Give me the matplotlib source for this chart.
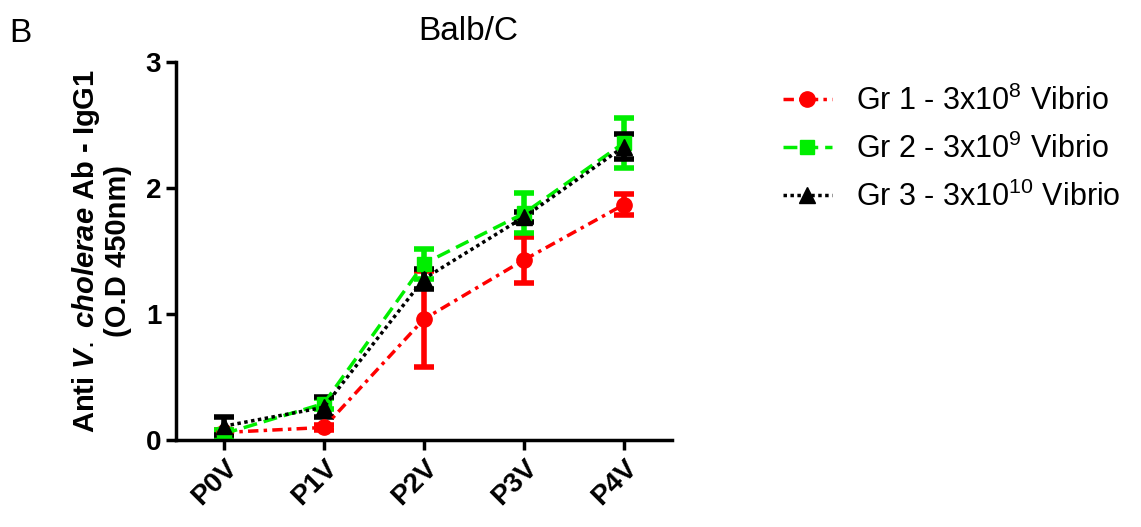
import matplotlib
matplotlib.use("Agg")
import matplotlib.pyplot as plt
from matplotlib.lines import Line2D

plt.rcParams['font.family'] = ['Liberation Sans', 'DejaVu Sans']
plt.rcParams['mathtext.fontset'] = 'custom'
plt.rcParams['mathtext.rm'] = 'Liberation Sans'
plt.rcParams['mathtext.it'] = 'Liberation Sans:italic:bold'
plt.rcParams['mathtext.bf'] = 'Liberation Sans:bold'

# data
days = ["P0V", "P1V", "P2V", "P3V", "P4V"]
gr1_mean = [0.06, 0.10, 0.96, 1.43, 1.87]
gr1_err = [0.02, 0.02, 0.38, 0.18, 0.08]
gr2_mean = [0.05, 0.29, 1.40, 1.80, 2.36]
gr2_err = [0.03, 0.04, 0.12, 0.16, 0.20]
gr3_mean = [0.11, 0.26, 1.28, 1.77, 2.33]
gr3_err = [0.07, 0.08, 0.08, 0.04, 0.10]
labels = ["Gr 1 - 3x10$^{8}$ Vibrio", "Gr 2 - 3x10$^{9}$ Vibrio",
          "Gr 3 - 3x10$^{10}$ Vibrio"]

fig = plt.figure(figsize=(11.41, 5.27), dpi=100)
ax = fig.add_axes([0.154, 0.165, 0.435, 0.717])

x = list(range(len(days)))
series = [
    (gr1_mean, gr1_err, '#ff0000', 'o', (0, (3, 1.5, 1, 1.5)), 11),
    (gr2_mean, gr2_err, '#00ee00', 's', (0, (4, 2)), 10),
    (gr3_mean, gr3_err, '#000000', '^', (0, (1, 1)), 11),
]
handles = []
for (m, e, c, mk, ls, ms), lab in zip(series, labels):
    ax.errorbar(x, m, yerr=e, color=c, marker=mk, markersize=ms, linestyle=ls,
                linewidth=2.5, elinewidth=4, capsize=7, capthick=4)
    handles.append(Line2D([], [], color=c, marker=mk, markersize=ms,
                          linestyle=ls, linewidth=2.5, label=lab))

ax.set_xlim(-0.48, 4.48)
ax.set_ylim(0, 3)
ax.set_yticks([0, 1, 2, 3])
ax.set_xticks(x)
ax.set_xticklabels(days, rotation=45, ha='right', rotation_mode='anchor')
for s in ['top', 'right']:
    ax.spines[s].set_visible(False)
for s in ['left', 'bottom']:
    ax.spines[s].set_linewidth(2.5)
ax.tick_params(width=2.5, length=7, labelsize=20)
for t in ax.get_xticklabels() + ax.get_yticklabels():
    t.set_fontweight('bold')

ax.set_ylabel("Anti $V.$ $cholerae$ Ab - IgG1\n(O.D 450nm)", fontsize=21,
              fontweight='bold', labelpad=10, linespacing=1.1)
ax.set_title("Balb/C", fontsize=24, pad=16, x=0.59)
fig.text(0.008, 0.92, "B", fontsize=24)

ax.legend(handles=handles, loc='upper left', bbox_to_anchor=(0.662, 0.89),
          bbox_transform=fig.transFigure, frameon=False, fontsize=22,
          handlelength=1.6, labelspacing=0.55, handletextpad=0.8)

fig.savefig("out.png", dpi=100)
